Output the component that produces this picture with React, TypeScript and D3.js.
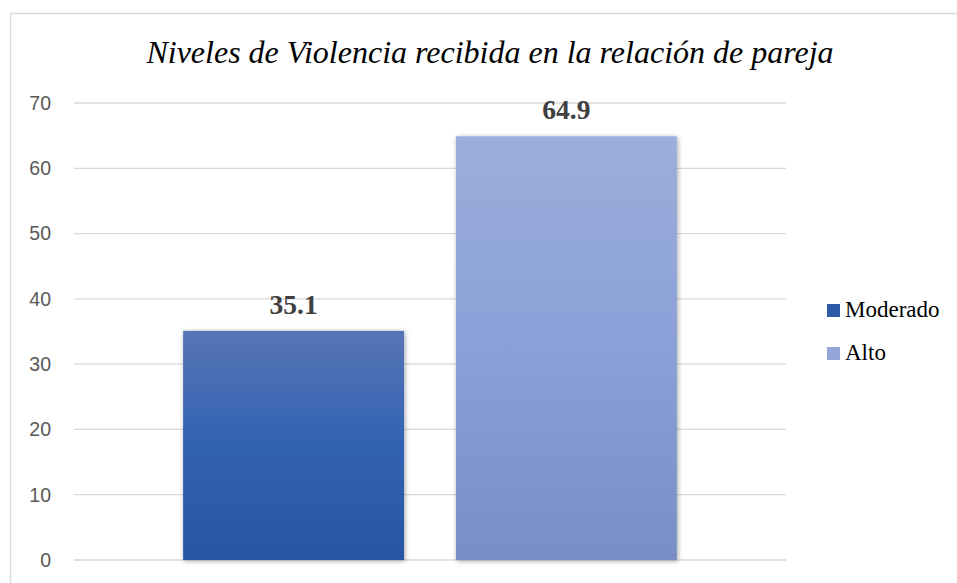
import React, { useEffect, useRef } from "react";
import * as d3 from "d3";

const title = "Niveles de Violencia recibida en la relación de pareja";
const categories = [""];
const seriesNames = ["Moderado", "Alto"];
const seriesValues = [35.1, 64.9];
const yTicks = [0, 10, 20, 30, 40, 50, 60, 70];

const gradients = [
  ["#5874b6", "#3262b2", "#2a54a3"],
  ["#9cafdc", "#8aa0d7", "#798ec6"],
];
const legendColors = ["#2f5aa8", "#94a7d8"];

const SERIF = "'Liberation Serif', 'Times New Roman', serif";
const SANS = "'Liberation Sans', Arial, sans-serif";

export default function App() {
  const ref = useRef<SVGSVGElement>(null);

  useEffect(() => {
    const svg = d3.select(ref.current);
    svg.selectAll("*").remove();
    const width = 957;
    const height = 583;

    const left = 74, right = 786, top = 103, bottom = 560;

    const defs = svg.append("defs");
    gradients.forEach((stops, i) => {
      const g = defs.append("linearGradient")
        .attr("id", "grad" + i)
        .attr("x1", 0).attr("y1", 0).attr("x2", 0).attr("y2", 1);
      stops.forEach((c, j) => {
        g.append("stop").attr("offset", j / (stops.length - 1)).attr("stop-color", c);
      });
    });
    const f = defs.append("filter").attr("id", "shadow")
      .attr("x", "-10%").attr("y", "-10%").attr("width", "120%").attr("height", "120%");
    f.append("feDropShadow")
      .attr("dx", 1).attr("dy", 1).attr("stdDeviation", 2.5)
      .attr("flood-color", "#000").attr("flood-opacity", 0.35);

    svg.append("rect").attr("width", width).attr("height", height).attr("fill", "#fff");

    // chart border
    svg.append("path")
      .attr("d", `M10.5,${height} V13.5 H${width}`)
      .attr("fill", "none")
      .attr("stroke", "#d9d9d9")
      .attr("stroke-width", 1.5);

    const y = d3.scaleLinear().domain([0, 70]).range([bottom, top]);
    const x0 = d3.scaleBand().domain(categories).range([left, right]);
    const x1 = d3.scaleBand().domain(seriesNames)
      .range([x0(categories[0])!, x0(categories[0])! + x0.bandwidth()])
      .paddingInner(0.19).paddingOuter(0.4);

    // gridlines
    svg.append("g").selectAll("line").data(yTicks).join("line")
      .attr("x1", left).attr("x2", right)
      .attr("y1", d => y(d)).attr("y2", d => y(d))
      .attr("stroke", "#d9d9d9").attr("stroke-width", 1.3);

    // y labels
    svg.append("g").selectAll("text").data(yTicks).join("text")
      .attr("x", 51).attr("y", d => y(d))
      .attr("dy", "0.35em")
      .attr("text-anchor", "end")
      .style("font-family", SANS)
      .attr("font-size", 19.5)
      .attr("fill", "#595959")
      .text(d => d);

    // bars
    svg.append("g").selectAll("rect").data(seriesValues).join("rect")
      .attr("x", (d, i) => x1(seriesNames[i])!)
      .attr("width", x1.bandwidth())
      .attr("y", d => y(d))
      .attr("height", d => y(0) - y(d))
      .attr("fill", (d, i) => `url(#grad${i})`)
      .attr("filter", "url(#shadow)");

    // value labels
    svg.append("g").selectAll("text").data(seriesValues).join("text")
      .attr("x", (d, i) => x1(seriesNames[i])! + x1.bandwidth() / 2)
      .attr("y", d => y(d) - 17)
      .attr("text-anchor", "middle")
      .style("font-family", SERIF)
      .attr("font-weight", "bold")
      .attr("font-size", 27.5)
      .attr("fill", "#404040")
      .text(d => d.toFixed(1));

    // title
    svg.append("text")
      .attr("x", 490).attr("y", 63)
      .attr("text-anchor", "middle")
      .style("font-family", SERIF)
      .attr("font-style", "italic")
      .attr("font-size", 32)
      .attr("fill", "#000")
      .text(title);

    // legend
    const lg = svg.append("g").attr("transform", "translate(827,304)");
    const items = lg.selectAll("g").data(seriesNames).join("g")
      .attr("transform", (d, i) => `translate(0,${i * 43})`);
    items.append("rect").attr("width", 13).attr("height", 13)
      .attr("fill", (d, i) => legendColors[i]);
    items.append("text")
      .attr("x", 18).attr("y", 13)
      .style("font-family", SERIF)
      .attr("font-size", 23)
      .attr("fill", "#000")
      .text(d => d);
  }, []);

  return (
    <svg ref={ref} width={957} height={583}
      style={{ position: "absolute", left: 0, top: 0 }} />
  );
}
